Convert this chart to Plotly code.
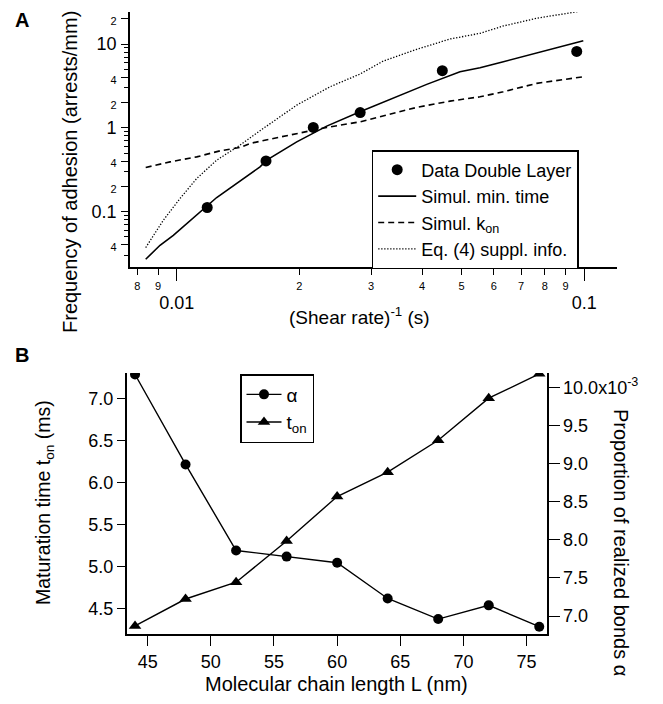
import plotly.graph_objects as go

W, H = 663, 704

# ---------------- Panel A data ----------------
data_x = [0.01188, 0.01656, 0.02163, 0.02819, 0.04484, 0.09581]
data_y = [0.112, 0.403, 1.01, 1.52, 4.80, 8.15]

mintime_x = [0.008393, 0.009100, 0.009810, 0.011846, 0.012534, 0.016011, 0.016630,
             0.019702, 0.023335, 0.028166, 0.033997, 0.041059, 0.049553, 0.055479,
             0.063303, 0.076403, 0.099431]
mintime_y = [0.02700, 0.03969, 0.05224, 0.1138, 0.1474, 0.3420, 0.4113,
             0.6804, 1.048, 1.553, 2.283, 3.300, 4.668, 5.21,
             6.144, 7.873, 10.95]

kon_x = [0.008393, 0.009629, 0.011197, 0.012771, 0.014299, 0.015128, 0.017258,
         0.019702, 0.023335, 0.028166, 0.032131, 0.038810, 0.046827, 0.055479,
         0.063303, 0.076403, 0.099431]
kon_y = [0.3364, 0.3925, 0.4502, 0.5312, 0.5831, 0.6512, 0.7468,
         0.8571, 1.011, 1.179, 1.40, 1.753, 2.084, 2.346,
         2.692, 3.393, 4.069]

eq4_x = [0.008393, 0.009271, 0.010188, 0.011197, 0.012534, 0.014299, 0.016311,
         0.019702, 0.023774, 0.028166, 0.032131, 0.038810, 0.046827, 0.055479,
         0.063303, 0.076403, 0.099431]
eq4_y = [0.03725, 0.07893, 0.1434, 0.2485, 0.4113, 0.6216, 0.9836,
         1.867, 3.089, 4.381, 6.264, 8.645, 11.47, 13.42,
         16.41, 20.28, 24.99]

# tick definitions panel A
ax_minor_vals = [0.008, 0.009, 0.02, 0.03, 0.04, 0.05, 0.06, 0.07, 0.08, 0.09]
ax_minor_text = ["8", "9", "2", "3", "4", "5", "6", "7", "8", "9"]
ax_major_vals = [0.01, 0.1]
ax_major_text = ["0.01", "0.1"]

ay_label_vals = [0.04, 0.1, 0.2, 0.4, 1, 2, 4, 10, 20]
ay_label_text = ["4", "0.1", "2", "4", "1", "2", "4", "10", "2"]
ay_minor_vals = [0.03, 0.05, 0.06, 0.07, 0.08, 0.09, 0.3, 0.5, 0.6, 0.7, 0.8, 0.9,
                 3, 5, 6, 7, 8, 9]

# ---------------- Panel B data ----------------
L = [44, 48, 52, 56, 60, 64, 68, 72, 76]
t_on = [4.29, 4.61, 4.81, 5.30, 5.83, 6.12, 6.50, 7.00, 7.29]
alpha = [10.17e-3, 8.99e-3, 7.86e-3, 7.78e-3, 7.70e-3, 7.23e-3, 6.96e-3, 7.14e-3, 6.86e-3]

bx_ticks = [45, 50, 55, 60, 65, 70, 75]
by_ticks = [4.5, 5.0, 5.5, 6.0, 6.5, 7.0]
br_ticks = [7.0e-3, 7.5e-3, 8.0e-3, 8.5e-3, 9.0e-3, 9.5e-3, 10.0e-3]
br_text = ["7.0", "7.5", "8.0", "8.5", "9.0", "9.5", "10.0x10<sup>-3</sup>"]

FONT = "Liberation Sans, Arial, Helvetica, sans-serif"
BIG = 18
TITLE = 20
SMALL = 11


def px(x):
    return x / W


def py(y):
    return 1 - y / H


def small(t):
    return '<span style="font-size:%dpx">%s</span>' % (SMALL, t)


fig = go.Figure()

# Panel A traces
fig.add_trace(go.Scatter(x=data_x, y=data_y, mode="markers", name="Data Double Layer",
                         marker=dict(symbol="circle", size=11, color="black"),
                         xaxis="x", yaxis="y", legend="legend"))
fig.add_trace(go.Scatter(x=mintime_x, y=mintime_y, mode="lines", name="Simul. min. time",
                         line=dict(color="black", width=1.6),
                         xaxis="x", yaxis="y", legend="legend"))
fig.add_trace(go.Scatter(x=kon_x, y=kon_y, mode="lines", name="Simul. k<sub>on</sub>",
                         line=dict(color="black", width=1.6, dash="6px,4px"),
                         xaxis="x", yaxis="y", legend="legend"))
fig.add_trace(go.Scatter(x=eq4_x, y=eq4_y, mode="lines", name="Eq. (4) suppl. info.",
                         line=dict(color="black", width=1.3, dash="1.3px,1.7px"),
                         xaxis="x", yaxis="y", legend="legend"))
# empty trace so the overlaid major-label axis is rendered
fig.add_trace(go.Scatter(x=[], y=[], mode="markers", showlegend=False,
                         hoverinfo="skip", xaxis="x3", yaxis="y"))

# Panel B traces
fig.add_trace(go.Scatter(x=L, y=alpha, mode="lines+markers", name="α",
                         line=dict(color="black", width=1.4),
                         marker=dict(symbol="circle", size=10, color="black"),
                         xaxis="x2", yaxis="y4", legend="legend2"))
fig.add_trace(go.Scatter(x=L, y=t_on, mode="lines+markers", name="t<sub>on</sub>",
                         line=dict(color="black", width=1.4),
                         marker=dict(symbol="triangle-up", size=11, color="black"),
                         xaxis="x2", yaxis="y2", legend="legend2"))

axis_common = dict(showgrid=False, zeroline=False, showline=True, linecolor="black",
                   linewidth=1.6, ticks="outside", tickcolor="black", tickwidth=1.4)

fig.update_layout(
    width=W, height=H,
    margin=dict(l=0, r=0, t=0, b=0),
    paper_bgcolor="white", plot_bgcolor="white",
    font=dict(family=FONT, color="black", size=BIG),
    xaxis=dict(type="log", range=[-2.1146, -0.9205], domain=[px(130), px(616.7)],
               anchor="y", tickmode="array", tickvals=ax_minor_vals, ticktext=ax_minor_text,
               tickfont=dict(size=SMALL), ticklen=6, ticklabelstandoff=2, **axis_common),
    xaxis3=dict(type="log", range=[-2.1146, -0.9205], domain=[px(130), px(616.7)],
                anchor="y", overlaying="x", side="bottom", tickmode="array",
                tickvals=ax_major_vals, ticktext=ax_major_text, tickfont=dict(size=BIG),
                ticklen=12, ticklabelstandoff=7, **axis_common),
    yaxis=dict(type="log", range=[-1.657, 1.382], domain=[py(266.7), py(12)],
               anchor="x", tickmode="array", tickvals=ay_label_vals,
               ticktext=[t if t in ("0.1", "1", "10") else small(t) for t in ay_label_text],
               tickfont=dict(size=BIG), ticklen=7, ticklabelstandoff=1,
               minor=dict(tickvals=ay_minor_vals, ticklen=4, ticks="outside",
                          tickcolor="black", tickwidth=1.2),
               **axis_common),
    xaxis2=dict(range=[43.34, 76.59], domain=[px(126.7), px(546.7)], anchor="y2",
                tickmode="array", tickvals=bx_ticks, ticklen=10, tickfont=dict(size=BIG),
                **axis_common),
    yaxis2=dict(range=[4.19, 7.30], domain=[py(634.3), py(373)], anchor="x2",
                tickmode="array", tickvals=by_ticks, tickformat=".1f", ticklen=8,
                tickfont=dict(size=BIG), **axis_common),
    yaxis4=dict(range=[6.76e-3, 10.19e-3], domain=[py(634.3), py(373)], anchor="x2",
                overlaying="y2", side="right", tickmode="array", tickvals=br_ticks,
                ticktext=br_text, ticklen=11, tickfont=dict(size=BIG), **axis_common),
    legend=dict(x=px(371.7), y=py(150), xanchor="left", yanchor="top",
                bgcolor="white", bordercolor="black", borderwidth=1.5,
                font=dict(size=18), itemwidth=38, tracegroupgap=0),
    legend2=dict(x=px(240), y=py(374), xanchor="left", yanchor="top",
                 bgcolor="white", bordercolor="black", borderwidth=1.5,
                 font=dict(size=19), itemwidth=35),
    showlegend=True,
)

ann = [
    dict(text="<b>A</b>", x=px(21.7), y=py(20), font=dict(size=20)),
    dict(text="<b>B</b>", x=px(21.7), y=py(355), font=dict(size=20)),
    dict(text="Frequency of adhesion (arrests/mm)", x=px(70), y=py(172), textangle=-90,
         font=dict(size=TITLE)),
    dict(text="(Shear rate)<sup>-1</sup> (s)", x=px(359), y=py(316), font=dict(size=19)),
    dict(text="Maturation time t<sub>on</sub> (ms)", x=px(44), y=py(503), textangle=-90,
         font=dict(size=19.5)),
    dict(text="Molecular chain length L (nm)", x=px(336), y=py(684), font=dict(size=TITLE)),
    dict(text="Proportion of realized bonds α", x=px(621), y=py(542), textangle=90,
         font=dict(size=TITLE)),
]
for a in ann:
    a.update(xref="paper", yref="paper", showarrow=False, xanchor="center",
             yanchor="middle")
fig.update_layout(annotations=ann)

fig.write_html("out.html",
               config={"displayModeBar": False},
               post_script="document.body.style.margin='0px';"
                           "document.body.style.overflow='hidden';")
